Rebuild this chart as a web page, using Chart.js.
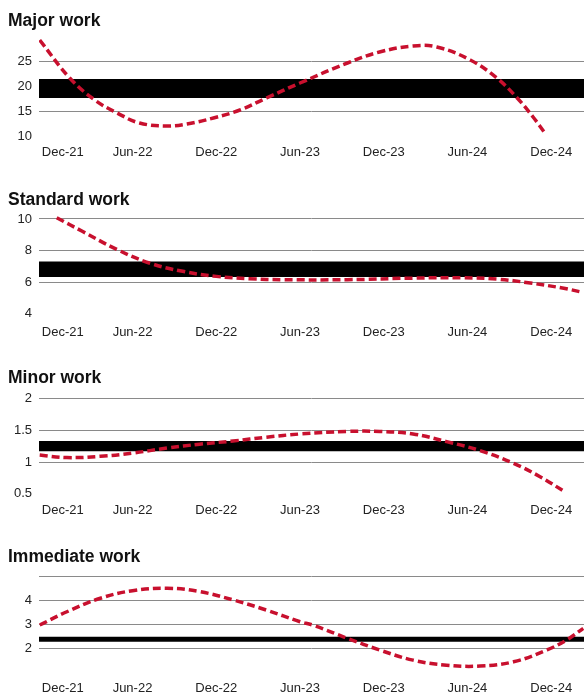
<!DOCTYPE html>
<html>
<head>
<meta charset="utf-8">
<script src="https://cdn.jsdelivr.net/npm/chart.js@4.4.1/dist/chart.umd.min.js"></script>
<style>
  body { margin: 0; background: #fff; overflow: hidden; }
  #wrap { position: relative; width: 584px; height: 695px; overflow: hidden; }
  .title { position: absolute; left: 8px; font: bold 17.5px "Liberation Sans", Arial, sans-serif; line-height: 20px; color: #111; z-index: 2; }
  canvas { position: absolute; left: 0; }
</style>
</head>
<body>
<div id="wrap">
  <div class="title" style="top:10px">Major work</div>
  <div class="title" style="top:189px">Standard work</div>
  <div class="title" style="top:367px">Minor work</div>
  <div class="title" style="top:546px">Immediate work</div>
  <canvas id="major" width="584" height="146" style="top:20px"></canvas>
  <canvas id="standard" width="584" height="146" style="top:200px"></canvas>
  <canvas id="minor" width="584" height="144" style="top:380px"></canvas>
  <canvas id="immediate" width="584" height="143" style="top:559px"></canvas>
</div>
<script>
// x axis: months counted from Dec-21
var xTickMonths = [1, 6, 12, 18, 24, 30, 36];
var xTickLabels = ['Dec-21', 'Jun-22', 'Dec-22', 'Jun-23', 'Dec-23', 'Jun-24', 'Dec-24'];
var xRange = [-0.7, 38.35];

// Major work
var majorMonths = [-0.65, 1.5, 3.3, 4.9, 6.5, 8.5, 9.9, 11.8, 13.7, 15.6, 18, 21.4, 23.7, 26.1, 27.8, 30.2, 32.1, 33.5, 34.7, 35.6];
var majorValues = [29.2, 21.6, 17.2, 14.6, 12.6, 12.0, 12.4, 13.6, 15.2, 17.6, 20.6, 24.6, 26.8, 28.0, 27.8, 25.2, 21.6, 17.8, 13.8, 10.4];
var majorBand = [17.6, 21.4];
var majorTicks = [10, 15, 20, 25];
var majorTickLabels = ['10', '15', '20', '25'];
var majorGridTicks = [15, 20, 25];

// Standard work
var standardMonths = [0.57, 2.4, 4.9, 7.2, 9.6, 12, 14.4, 16.8, 21.4, 26.1, 29.7, 32.1, 34.5, 36.8, 38.3];
var standardValues = [10.08, 9.22, 8.06, 7.21, 6.68, 6.36, 6.21, 6.15, 6.15, 6.25, 6.27, 6.19, 5.94, 5.62, 5.34];
var standardBand = [6.32, 7.31];
var standardTicks = [4, 6, 8, 10];
var standardTickLabels = ['4', '6', '8', '10'];
var standardGridTicks = [6, 8, 10];

// Minor work
var minorMonths = [-0.65, 1.3, 3.7, 6, 8.5, 10.8, 13.2, 15.6, 18, 21.4, 23.7, 26.1, 28.5, 30.9, 33.3, 35.2, 37];
var minorValues = [1.11, 1.07, 1.09, 1.14, 1.22, 1.28, 1.33, 1.39, 1.44, 1.48, 1.48, 1.44, 1.32, 1.18, 0.98, 0.77, 0.53];
var minorBand = [1.17, 1.33];
var minorTicks = [0.5, 1, 1.5, 2];
var minorTickLabels = ['0.5', '1', '1.5', '2'];
var minorGridTicks = [1, 1.5, 2];

// Immediate work
var immediateMonths = [-0.65, 1.3, 3.7, 6, 8.5, 10.8, 13.2, 15.6, 18, 18.9, 21.4, 23.7, 26.1, 28.5, 30.9, 33.3, 35.7, 37.1, 38.3];
var immediateValues = [2.97, 3.53, 4.10, 4.42, 4.52, 4.38, 4.03, 3.60, 3.11, 2.97, 2.41, 1.92, 1.49, 1.28, 1.24, 1.42, 1.92, 2.34, 2.83];
var immediateBand = [2.27, 2.48];
var immediateTicks = [2, 3, 4, 5];
var immediateTickLabels = ['2', '3', '4', ''];
var immediateGridTicks = [2, 3, 4, 5];

var font = { family: '"Liberation Sans", Arial, sans-serif', size: 13 };

function toPoints(xs, ys) {
  return xs.map(function (x, i) { return { x: x, y: ys[i] }; });
}

function makeChart(id, months, values, band, ticks, tickLabels, gridTicks, yMin, yMax) {
  var ctx = document.getElementById(id).getContext('2d');
  // chart.js paints the first dataset last, so the dashed curve goes first
  return new Chart(ctx, {
    type: 'line',
    data: {
      datasets: [{
        data: toPoints(months, values),
        borderColor: '#c8102e', borderWidth: 3.5, borderDash: [8, 4],
        pointRadius: 0, tension: 0.4, fill: false
      }, {
        data: toPoints(xRange, [band[0], band[0]]),
        borderWidth: 0, pointRadius: 0, fill: false
      }, {
        data: toPoints(xRange, [band[1], band[1]]),
        borderWidth: 0, pointRadius: 0, fill: '-1', backgroundColor: '#000'
      }]
    },
    options: {
      responsive: false,
      animation: false,
      events: [],
      layout: { padding: { top: 16, left: 0, right: 0, bottom: 0 } },
      plugins: { legend: { display: false }, tooltip: { enabled: false } },
      scales: {
        x: {
          type: 'linear', min: xRange[0], max: xRange[1],
          grid: { display: false, drawTicks: false },
          border: { display: false },
          afterBuildTicks: function (s) { s.ticks = xTickMonths.map(function (v) { return { value: v }; }); },
          afterFit: function (s) { s.height = 25; },
          ticks: {
            color: '#222', font: font, padding: 4, maxRotation: 0, autoSkip: false,
            callback: function (v, i) { return xTickLabels[i]; }
          }
        },
        y: {
          min: yMin, max: yMax, z: 1,
          border: { display: false },
          grid: {
            drawTicks: false, lineWidth: 1,
            color: function (c) { return gridTicks.indexOf(c.tick.value) >= 0 ? '#8a8a8a' : 'rgba(0,0,0,0)'; }
          },
          afterBuildTicks: function (s) { s.ticks = ticks.map(function (v) { return { value: v }; }); },
          afterFit: function (s) { s.width = 39; },
          ticks: {
            color: '#222', font: font, padding: 7,
            callback: function (v, i) { return tickLabels[i]; }
          }
        }
      }
    }
  });
}

makeChart('major', majorMonths, majorValues, majorBand, majorTicks, majorTickLabels, majorGridTicks, 9, 30);
makeChart('standard', standardMonths, standardValues, standardBand, standardTicks, standardTickLabels, standardGridTicks, 3.53, 10.19);
makeChart('minor', minorMonths, minorValues, minorBand, minorTicks, minorTickLabels, minorGridTicks, 0.42, 2.036);
makeChart('immediate', immediateMonths, immediateValues, immediateBand, immediateTicks, immediateTickLabels, immediateGridTicks, 0.78, 5.08);
</script>
</body>
</html>
